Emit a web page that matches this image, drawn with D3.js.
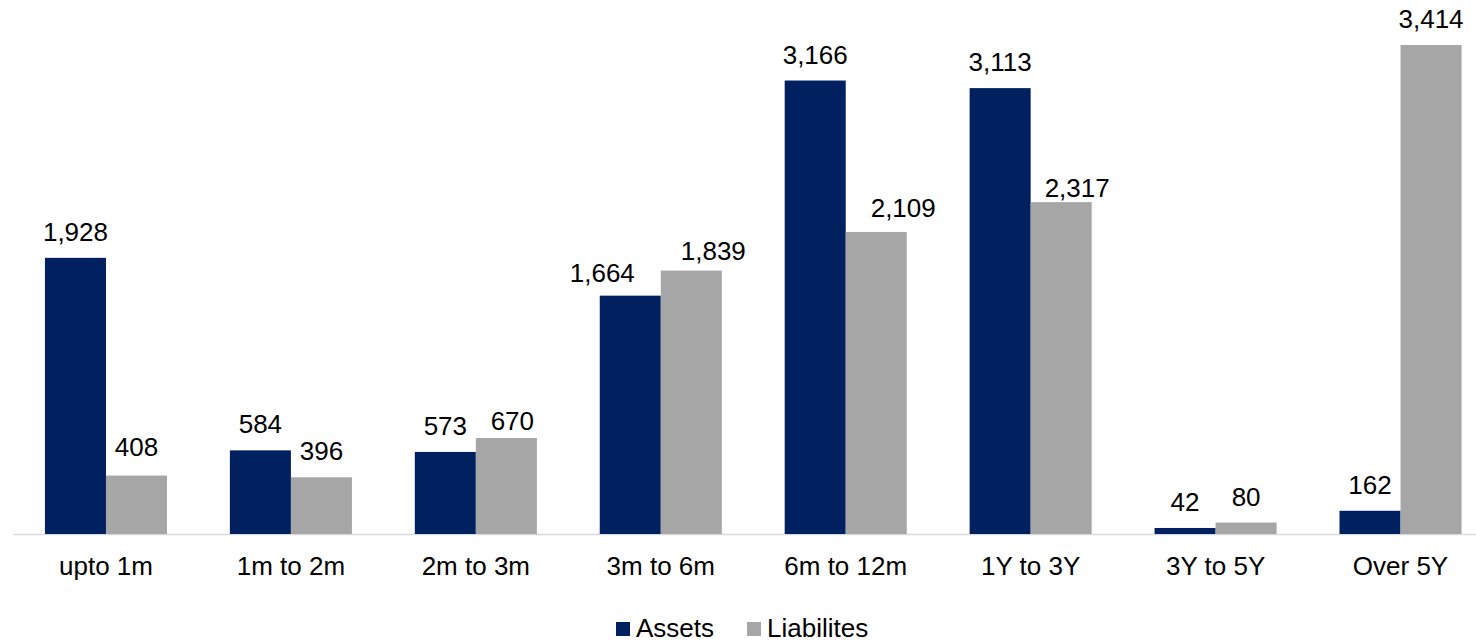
<!DOCTYPE html>
<html>
<head>
<meta charset="utf-8">
<script src="https://cdn.jsdelivr.net/npm/d3@7"></script>
<style>
  body { margin: 0; background: #fff; }
  text { font-family: "Liberation Sans", Arial, sans-serif; fill: #000; }
</style>
</head>
<body>
<div id="chart"></div>
<script>
// data
var categories = ["upto 1m", "1m to 2m", "2m to 3m", "3m to 6m", "6m to 12m", "1Y to 3Y", "3Y to 5Y", "Over 5Y"];
var seriesNames = ["Assets", "Liabilites"];
var assets = [1928, 584, 573, 1664, 3166, 3113, 42, 162];
var liabilities = [408, 396, 670, 1839, 2109, 2317, 80, 3414];
var seriesColors = ["#002060", "#a6a6a6"];

// a few labels were moved by hand in the original (series|category -> px)
var labelNudge = {
  "Assets|3m to 6m": [-28, 3],
  "Liabilites|upto 1m": [0, -3],
  "Liabilites|2m to 3m": [6, 9],
  "Liabilites|3m to 6m": [22, 6],
  "Liabilites|6m to 12m": [27, 2],
  "Liabilites|1Y to 3Y": [16, 12]
};

var width = 1476, height = 644;
var baseline = 534;
var fmt = d3.format(",");

var svg = d3.select("#chart").append("svg")
  .attr("width", width)
  .attr("height", height);

var x0 = d3.scaleBand()
  .domain(categories)
  .range([13.5, 1493])
  .paddingInner(0.34)
  .paddingOuter(0.17);

var x1 = d3.scaleBand()
  .domain(seriesNames)
  .range([0, x0.bandwidth()]);

var y = d3.scaleLinear()
  .domain([0, 3414])
  .range([baseline, 45]);

var color = d3.scaleOrdinal(seriesNames, seriesColors);

var rows = categories.map(function(c, i) {
  return {cat: c, values: [
    {cat: c, key: seriesNames[0], value: assets[i]},
    {cat: c, key: seriesNames[1], value: liabilities[i]}
  ]};
});

function nudge(d) {
  return labelNudge[d.key + "|" + d.cat] || [0, 0];
}

// axis line
svg.append("line")
  .attr("x1", 13.5).attr("x2", width)
  .attr("y1", baseline + 0.5).attr("y2", baseline + 0.5)
  .style("stroke", "#d9d9d9")
  .style("stroke-width", 1.5);

var group = svg.selectAll(".grp")
  .data(rows)
  .enter().append("g")
  .attr("class", "grp")
  .attr("transform", function(d) { return "translate(" + x0(d.cat) + ",0)"; });

group.selectAll("rect")
  .data(function(d) { return d.values; })
  .enter().append("rect")
  .attr("x", function(d) { return x1(d.key); })
  .attr("width", x1.bandwidth())
  .attr("y", function(d) { return y(d.value); })
  .attr("height", function(d) { return baseline - y(d.value); })
  .style("fill", function(d) { return color(d.key); });

group.selectAll(".val")
  .data(function(d) { return d.values; })
  .enter().append("text")
  .attr("class", "val")
  .attr("x", function(d) { return x1(d.key) + x1.bandwidth() / 2 + nudge(d)[0]; })
  .attr("y", function(d) { return y(d.value) - 17 + nudge(d)[1]; })
  .attr("text-anchor", "middle")
  .style("font-size", "26px")
  .text(function(d) { return fmt(d.value); });

// category labels
svg.selectAll(".cat")
  .data(categories)
  .enter().append("text")
  .attr("class", "cat")
  .attr("x", function(d) { return x0(d) + x0.bandwidth() / 2; })
  .attr("y", 575)
  .attr("text-anchor", "middle")
  .style("font-size", "26px")
  .text(function(d) { return d; });

// legend
var legendX = [616, 747];
var legend = svg.selectAll(".leg")
  .data(seriesNames)
  .enter().append("g")
  .attr("class", "leg")
  .attr("transform", function(d, i) { return "translate(" + legendX[i] + ",622)"; });

legend.append("rect")
  .attr("width", 14).attr("height", 14)
  .style("fill", function(d) { return color(d); });

legend.append("text")
  .attr("x", 20)
  .attr("y", 15)
  .style("font-size", "26px")
  .text(function(d) { return d; });
</script>
</body>
</html>
